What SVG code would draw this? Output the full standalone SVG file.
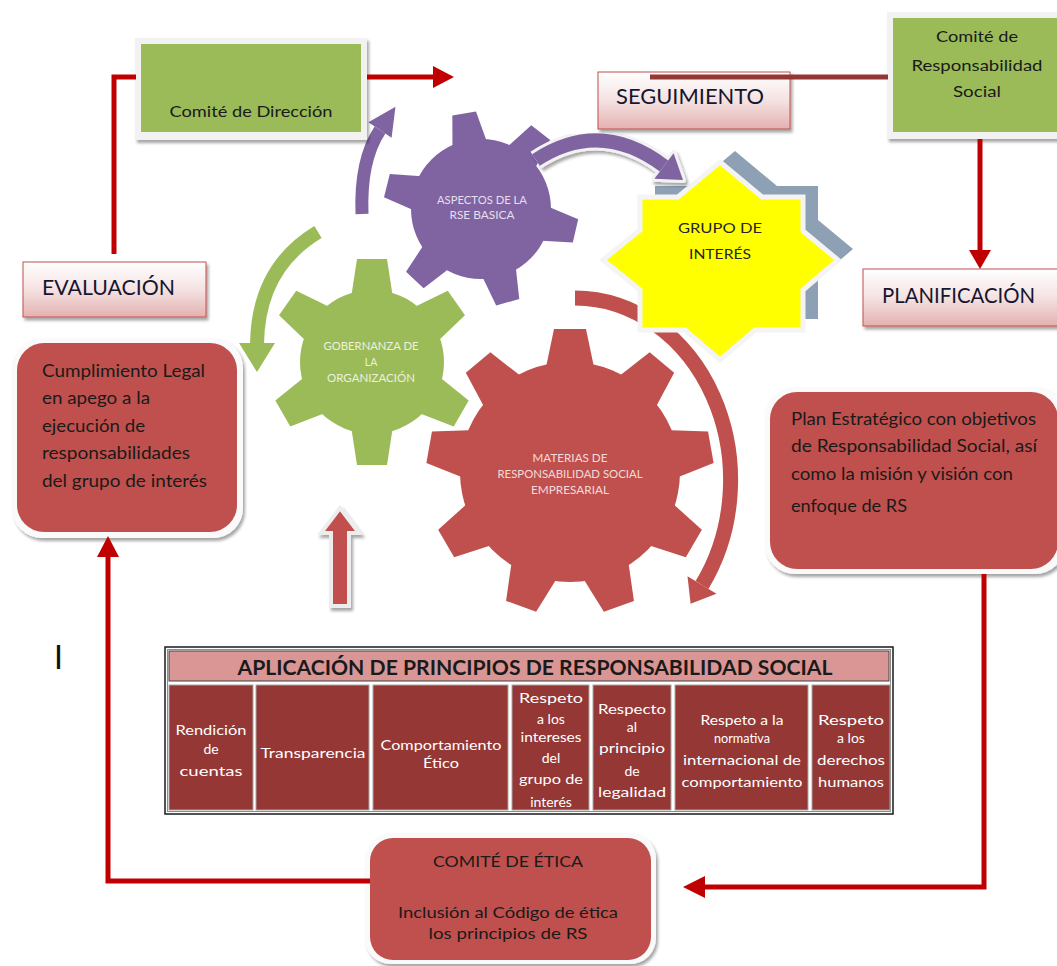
<svg xmlns="http://www.w3.org/2000/svg" xmlns:xlink="http://www.w3.org/1999/xlink" width="1057" height="966" viewBox="0 0 1057 966">
  <defs>
    <style>
      .f { font-family: Lato, "Liberation Sans", "DejaVu Sans", sans-serif; }
      .stage { font-size: 22px; fill: #16162e; }
      .boxtxt { font-size: 17px; fill: #1a1a1a; }
      .small { font-size: 15px; fill: #1a1a1a; text-anchor: middle; }
      .gtxt { font-size: 10.5px; text-anchor: middle; }
      .cell { font-size: 14px; fill: #ffffff; text-anchor: middle; }
      .wire { fill: none; stroke: #C00000; stroke-width: 5; }
      .head { fill: #C00000; }
      .pinkbox { fill: url(#pinkGrad); stroke: #C0504D; stroke-width: 1; }
      .frame { fill: #F2F2F2; }
      .green { fill: #9BBB59; }
      .redbox { fill: #C0504D; }
      .cellbox { fill: #953735; stroke: #A6A6A6; stroke-width: 1; }
    </style>
    <linearGradient id="pinkGrad" x1="0" y1="0" x2="0" y2="1">
      <stop offset="0" stop-color="#FFFFFF"/>
      <stop offset="0.5" stop-color="#F5E2E2"/>
      <stop offset="1" stop-color="#E3B1B0"/>
    </linearGradient>
    <filter id="shadow" x="-15%" y="-15%" width="135%" height="140%">
      <feDropShadow dx="2" dy="3" stdDeviation="1.5" flood-color="#000000" flood-opacity="0.35"/>
    </filter>
    <!-- gear teeth, pointing up from the gear centre -->
    <polygon id="toothPurple" points="-18,-62 -12,-97 12,-97 18,-62"/>
    <polygon id="toothGreen" points="-21,-64 -15,-103 15,-103 21,-64"/>
    <polygon id="toothRed" points="-25,-100 -16,-143 16,-143 25,-100"/>
    <polygon id="starShape" points="720,162 762,197 803,197 803,231 838,260 803,290 803,330 755,330 720,360 685,330 640,330 640,290 603,260 640,230 640,197 678,197"/>
  </defs>

  <rect width="1057" height="966" fill="#FFFFFF"/>

  <!-- red circular arrow around the main gear (partly hidden by the star) -->
  <g id="cycle-arcs">
    <path d="M 575 298 A 156 182 0 0 1 702 585" fill="none" stroke="#C0504D" stroke-width="15"/>
    <polygon points="716.5,593.8 687.5,576.2 690.6,603.8" fill="#C0504D"/>
    <path d="M 362 214 Q 360 160 380 130" fill="none" stroke="#8064A2" stroke-width="13"/>
    <polygon points="391.6,137.8 368.4,122.2 395.5,106.7" fill="#8064A2"/>
    <path d="M 318 232 Q 258 268 257 344" fill="none" stroke="#9BBB59" stroke-width="14"/>
    <polygon points="239,343 275,343 257,372" fill="#9BBB59"/>
  </g>

  <!-- gears -->
  <g id="gear-aspectos" fill="#8064A2">
    <circle cx="481" cy="209" r="70"/>
    <use xlink:href="#toothPurple" transform="translate(481 209) rotate(-10)"/>
    <use xlink:href="#toothPurple" transform="translate(481 209) rotate(38)"/>
    <use xlink:href="#toothPurple" transform="translate(481 209) rotate(103)"/>
    <use xlink:href="#toothPurple" transform="translate(481 209) rotate(164)"/>
    <use xlink:href="#toothPurple" transform="translate(481 209) rotate(223)"/>
    <use xlink:href="#toothPurple" transform="translate(481 209) rotate(284)"/>
    <text class="f gtxt" fill="#E5DFEC" x="482" y="204" textLength="90" lengthAdjust="spacingAndGlyphs">ASPECTOS DE LA</text>
    <text class="f gtxt" fill="#E5DFEC" x="482" y="219" textLength="65" lengthAdjust="spacingAndGlyphs">RSE BASICA</text>
  </g>

  <g id="gear-gobernanza" fill="#9BBB59">
    <circle cx="372" cy="362" r="72"/>
    <use xlink:href="#toothGreen" transform="translate(372 362) rotate(0)"/>
    <use xlink:href="#toothGreen" transform="translate(372 362) rotate(55)"/>
    <use xlink:href="#toothGreen" transform="translate(372 362) rotate(120)"/>
    <use xlink:href="#toothGreen" transform="translate(372 362) rotate(180)"/>
    <use xlink:href="#toothGreen" transform="translate(372 362) rotate(240)"/>
    <use xlink:href="#toothGreen" transform="translate(372 362) rotate(305)"/>
    <text class="f gtxt" fill="#EBF1DE" x="371" y="350" textLength="95" lengthAdjust="spacingAndGlyphs">GOBERNANZA DE</text>
    <text class="f gtxt" fill="#EBF1DE" x="371" y="366">LA</text>
    <text class="f gtxt" fill="#EBF1DE" x="371" y="382" textLength="88" lengthAdjust="spacingAndGlyphs">ORGANIZACIÓN</text>
  </g>

  <g id="gear-materias" fill="#C0504D">
    <circle cx="570" cy="472" r="110"/>
    <use xlink:href="#toothRed" transform="translate(570 472) rotate(0)"/>
    <use xlink:href="#toothRed" transform="translate(570 472) rotate(40)"/>
    <use xlink:href="#toothRed" transform="translate(570 472) rotate(80)"/>
    <use xlink:href="#toothRed" transform="translate(570 472) rotate(120)"/>
    <use xlink:href="#toothRed" transform="translate(570 472) rotate(160)"/>
    <use xlink:href="#toothRed" transform="translate(570 472) rotate(200)"/>
    <use xlink:href="#toothRed" transform="translate(570 472) rotate(240)"/>
    <use xlink:href="#toothRed" transform="translate(570 472) rotate(280)"/>
    <use xlink:href="#toothRed" transform="translate(570 472) rotate(320)"/>
    <text class="f gtxt" fill="#F2DCDB" x="570" y="462" textLength="75" lengthAdjust="spacingAndGlyphs">MATERIAS DE</text>
    <text class="f gtxt" fill="#F2DCDB" x="570" y="478" textLength="145" lengthAdjust="spacingAndGlyphs">RESPONSABILIDAD SOCIAL</text>
    <text class="f gtxt" fill="#F2DCDB" x="570" y="494" textLength="78" lengthAdjust="spacingAndGlyphs">EMPRESARIAL</text>
  </g>

  <!-- stakeholder star -->
  <g id="grupo-interes">
    <use xlink:href="#starShape" transform="translate(15 -11)" fill="#8EA0B4"/>
    <use xlink:href="#starShape" fill="#FFFF00" stroke="#F4F4F4" stroke-width="5" stroke-linejoin="miter"/>
    <text class="f" font-size="14" fill="#262626" text-anchor="middle" x="720" y="233" textLength="84" lengthAdjust="spacingAndGlyphs">GRUPO DE</text>
    <text class="f" font-size="14" fill="#262626" text-anchor="middle" x="720" y="259" textLength="62" lengthAdjust="spacingAndGlyphs">INTERÉS</text>
  </g>

  <!-- purple block arrow from the gear to the star -->
  <g id="arrow-aspectos-grupo">
    <g filter="url(#shadow)">
      <path d="M 536 160 Q 600 118 664 166" fill="none" stroke="#F2F2F2" stroke-width="20"/>
      <polygon points="654.4,178.8 673.6,153.2 683,180" fill="#F2F2F2" stroke="#F2F2F2" stroke-width="6" stroke-linejoin="round"/>
    </g>
    <path d="M 536 160 Q 600 118 664 166" fill="none" stroke="#8064A2" stroke-width="14"/>
    <polygon points="654.4,178.8 673.6,153.2 683,180" fill="#8064A2"/>
  </g>

  <!-- red block arrow under the governance gear -->
  <g id="arrow-principios" filter="url(#shadow)">
    <polygon points="340,508 359,533 349,533 349,606 331,606 331,533 321,533" fill="#C0504D" stroke="#EDEDED" stroke-width="4" stroke-linejoin="miter"/>
  </g>

  <!-- committees -->
  <g id="comite-direccion">
    <rect class="frame" x="135" y="38" width="232" height="102" filter="url(#shadow)"/>
    <rect class="green" x="141" y="44" width="220" height="88"/>
    <text class="f" font-size="16" fill="#1a1a1a" text-anchor="middle" x="251" y="117" textLength="163" lengthAdjust="spacingAndGlyphs">Comité de Dirección</text>
  </g>

  <g id="comite-rs">
    <rect class="frame" x="887" y="12" width="175" height="127" filter="url(#shadow)"/>
    <rect class="green" x="893" y="18" width="170" height="114"/>
    <text class="f" font-size="16" fill="#1a1a1a" text-anchor="middle" x="977" y="42" textLength="82" lengthAdjust="spacingAndGlyphs">Comité de</text>
    <text class="f" font-size="16" fill="#1a1a1a" text-anchor="middle" x="977" y="71" textLength="131" lengthAdjust="spacingAndGlyphs">Responsabilidad</text>
    <text class="f" font-size="16" fill="#1a1a1a" text-anchor="middle" x="977" y="97" textLength="48" lengthAdjust="spacingAndGlyphs">Social</text>
  </g>

  <!-- stage labels -->
  <g id="evaluacion">
    <rect class="pinkbox" x="23" y="262" width="183" height="55" filter="url(#shadow)"/>
    <text class="f stage" x="42" y="295" textLength="133" lengthAdjust="spacingAndGlyphs">EVALUACIÓN</text>
  </g>
  <g id="seguimiento">
    <rect class="pinkbox" x="598" y="72" width="192" height="57" filter="url(#shadow)"/>
    <text class="f stage" x="616" y="104" textLength="148" lengthAdjust="spacingAndGlyphs">SEGUIMIENTO</text>
  </g>
  <g id="planificacion">
    <rect class="pinkbox" x="863" y="269" width="200" height="57" filter="url(#shadow)"/>
    <text class="f stage" x="882" y="303" textLength="153" lengthAdjust="spacingAndGlyphs">PLANIFICACIÓN</text>
  </g>

  <!-- rounded description boxes -->
  <g id="cumplimiento">
    <rect x="12" y="338" width="231" height="200" rx="30" fill="#FAFAFA" filter="url(#shadow)"/>
    <rect class="redbox" x="17" y="343" width="220" height="189" rx="27"/>
    <text class="f boxtxt" x="42" y="377" textLength="163" lengthAdjust="spacingAndGlyphs">Cumplimiento Legal</text>
    <text class="f boxtxt" x="42" y="404" textLength="108" lengthAdjust="spacingAndGlyphs">en apego a la</text>
    <text class="f boxtxt" x="42" y="432" textLength="103" lengthAdjust="spacingAndGlyphs">ejecución de</text>
    <text class="f boxtxt" x="42" y="459" textLength="148" lengthAdjust="spacingAndGlyphs">responsabilidades</text>
    <text class="f boxtxt" x="42" y="487" textLength="165" lengthAdjust="spacingAndGlyphs">del grupo de interés</text>
  </g>

  <g id="plan-estrategico">
    <rect x="765" y="387" width="300" height="187" rx="30" fill="#FAFAFA" filter="url(#shadow)"/>
    <rect class="redbox" x="770" y="392" width="288" height="177" rx="27"/>
    <text class="f boxtxt" x="791" y="425" textLength="245" lengthAdjust="spacingAndGlyphs">Plan Estratégico con objetivos</text>
    <text class="f boxtxt" x="791" y="452" textLength="246" lengthAdjust="spacingAndGlyphs">de Responsabilidad Social, así</text>
    <text class="f boxtxt" x="791" y="480" textLength="222" lengthAdjust="spacingAndGlyphs">como la misión y visión con</text>
    <text class="f boxtxt" x="791" y="512" textLength="116" lengthAdjust="spacingAndGlyphs">enfoque de RS</text>
  </g>

  <g id="comite-etica">
    <rect x="365" y="833" width="291" height="131" rx="26" fill="#FAFAFA" filter="url(#shadow)"/>
    <rect class="redbox" x="370" y="838" width="281" height="122" rx="23"/>
    <text class="f small" x="508" y="867" textLength="150" lengthAdjust="spacingAndGlyphs">COMITÉ DE ÉTICA</text>
    <text class="f small" x="508" y="918" textLength="220" lengthAdjust="spacingAndGlyphs">Inclusión al Código de ética</text>
    <text class="f small" x="508" y="939" textLength="159" lengthAdjust="spacingAndGlyphs">los principios  de RS</text>
  </g>

  <!-- stray mark at the left margin -->
  <text class="f" font-size="32" fill="#111111" x="54" y="669">I</text>

  <!-- principles table -->
  <g id="tabla-principios">
    <rect x="165" y="647" width="728" height="167" fill="#FFFFFF" stroke="#1a1a1a" stroke-width="1.5"/>
    <rect x="167.5" y="649.5" width="723" height="162" fill="none" stroke="#8C8C8C" stroke-width="1"/>
    <rect x="169" y="651" width="720" height="30" fill="#D99694" stroke="#404040" stroke-width="1"/>
    <text class="f" font-size="21" font-weight="bold" fill="#1a1a1a" text-anchor="middle" x="535" y="675" textLength="595" lengthAdjust="spacingAndGlyphs">APLICACIÓN DE PRINCIPIOS DE RESPONSABILIDAD SOCIAL</text>

    <rect class="cellbox" x="169" y="685" width="84" height="125"/>
    <rect class="cellbox" x="256" y="685" width="113" height="125"/>
    <rect class="cellbox" x="373" y="685" width="135" height="125"/>
    <rect class="cellbox" x="512" y="685" width="77" height="125"/>
    <rect class="cellbox" x="593" y="685" width="78" height="125"/>
    <rect class="cellbox" x="675" y="685" width="133" height="125"/>
    <rect class="cellbox" x="812" y="685" width="78" height="125"/>

    <text class="f cell" x="211" y="735" textLength="71" lengthAdjust="spacingAndGlyphs">Rendición</text>
    <text class="f cell" x="211" y="754">de</text>
    <text class="f cell" x="211" y="776" textLength="63" lengthAdjust="spacingAndGlyphs">cuentas</text>

    <text class="f cell" x="313" y="758" textLength="105" lengthAdjust="spacingAndGlyphs">Transparencia</text>

    <text class="f cell" x="441" y="750" textLength="121" lengthAdjust="spacingAndGlyphs">Comportamiento</text>
    <text class="f cell" x="441" y="768" textLength="36" lengthAdjust="spacingAndGlyphs">Ético</text>

    <text class="f cell" x="551" y="703" textLength="64" lengthAdjust="spacingAndGlyphs">Respeto</text>
    <text class="f cell" x="551" y="724">a los</text>
    <text class="f cell" x="551" y="742" textLength="61" lengthAdjust="spacingAndGlyphs">intereses</text>
    <text class="f cell" x="551" y="763">del</text>
    <text class="f cell" x="551" y="784" textLength="64" lengthAdjust="spacingAndGlyphs">grupo de</text>
    <text class="f cell" x="551" y="807">interés</text>

    <text class="f cell" x="632" y="714" textLength="68" lengthAdjust="spacingAndGlyphs">Respecto</text>
    <text class="f cell" x="632" y="732">al</text>
    <text class="f cell" x="632" y="753" textLength="66" lengthAdjust="spacingAndGlyphs">principio</text>
    <text class="f cell" x="632" y="776">de</text>
    <text class="f cell" x="632" y="797" textLength="68" lengthAdjust="spacingAndGlyphs">legalidad</text>

    <text class="f cell" x="742" y="725" textLength="83" lengthAdjust="spacingAndGlyphs">Respeto a la</text>
    <text class="f cell" x="742" y="743" textLength="56" lengthAdjust="spacingAndGlyphs">normativa</text>
    <text class="f cell" x="742" y="765" textLength="118" lengthAdjust="spacingAndGlyphs">internacional de</text>
    <text class="f cell" x="742" y="787" textLength="121" lengthAdjust="spacingAndGlyphs">comportamiento</text>

    <text class="f cell" x="851" y="725" textLength="66" lengthAdjust="spacingAndGlyphs">Respeto</text>
    <text class="f cell" x="851" y="743">a los</text>
    <text class="f cell" x="851" y="765" textLength="68" lengthAdjust="spacingAndGlyphs">derechos</text>
    <text class="f cell" x="851" y="787" textLength="66" lengthAdjust="spacingAndGlyphs">humanos</text>
  </g>

  <!-- connectors -->
  <g id="connectors">
    <polyline class="wire" points="114,254 114,77 136,77"/>
    <line class="wire" x1="367" y1="77" x2="436" y2="77"/>
    <polygon class="head" points="433,66 454,77 433,88"/>

    <line x1="650" y1="77" x2="888" y2="77" stroke="#943634" stroke-width="5"/>

    <line class="wire" x1="980" y1="139" x2="980" y2="252"/>
    <polygon class="head" points="969,250 991,250 980,269"/>

    <polyline class="wire" points="984,574 984,887 702,887"/>
    <polygon class="head" points="705,876 683,887 705,898"/>

    <polyline class="wire" points="370,881 108,881 108,554"/>
    <polygon class="head" points="97,557 119,557 108,536"/>
  </g>
</svg>
